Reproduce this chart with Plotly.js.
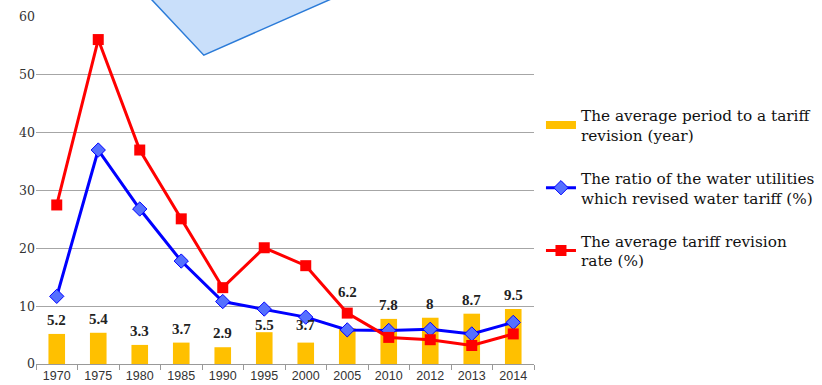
<!DOCTYPE html>
<html><head><meta charset="utf-8">
<script src="https://cdn.plot.ly/plotly-3.0.1.min.js"></script>
<style>html,body{margin:0;padding:0;background:#fff}#c{width:822px;height:385px}</style>
</head><body><div id="c"></div>
<script>
const years = ['1970','1975','1980','1985','1990','1995','2000','2005','2010','2012','2013','2014'];
const periodYears = [5.2,5.4,3.3,3.7,2.9,5.5,3.7,6.2,7.8,8,8.7,9.5];
const ratioRevised = [11.7,37.0,26.8,17.8,10.8,9.5,8.1,5.9,5.8,6.0,5.2,7.2];
const revisionRate = [27.5,56.1,37.0,25.1,13.2,20.1,17.0,8.8,4.6,4.2,3.2,5.2];
const names = ['The average period to a tariff<br>revision (year)',
               'The ratio of the water utilities<br>which revised water tariff (%)',
               'The average tariff revision<br>rate (%)'];

const traces = [
  {type:'bar', x:years, y:periodYears, marker:{color:'#FFC000'}, width:0.4, showlegend:false, hoverinfo:'skip'},
  {type:'scatter', mode:'lines', x:[years[0]], y:[null], name:names[0], line:{color:'#FFC000', width:8}, legendgroup:'a', showlegend:true},
  {type:'scatter', mode:'lines+markers', x:years, y:ratioRevised, name:names[1], legendgroup:'b',
   line:{color:'#0000FF', width:3}, marker:{symbol:'diamond', size:11, color:'#5570FF', line:{color:'#0000FF', width:1}}},
  {type:'scatter', mode:'lines+markers', x:years, y:revisionRate, name:names[2], legendgroup:'c',
   line:{color:'#FF0000', width:3}, marker:{symbol:'square', size:11, color:'#FF0000'}}
];

// label placement tweaks (pixels) to avoid overlapping the lines, as in the original
const labelShiftPx = {5:-3, 6:8, 7:26};
const annotations = years.map((yr,i)=>({x:i, y:periodYears[i], text:'<b>'+periodYears[i]+'</b>', showarrow:false,
  yanchor:'bottom', yshift:(labelShiftPx[i] !== undefined ? labelShiftPx[i] : 4),
  font:{family:'Liberation Serif, serif', size:15, color:'#222'}}));

const layout = {
  width:822, height:385,
  margin:{l:36, r:288, t:17, b:21, autoexpand:false},
  paper_bgcolor:'#fff', plot_bgcolor:'#fff',
  showlegend:true,
  legend:{x:1.014, xanchor:'left', y:0.765, yanchor:'top', tracegroupgap:20,
    font:{family:'DejaVu Serif, serif', size:15.3, color:'#111'}, itemwidth:30, bgcolor:'rgba(0,0,0,0)'},
  xaxis:{type:'category', categoryorder:'array', categoryarray:years, range:[-0.5, years.length-0.5],
    tickson:'boundaries', ticks:'outside', ticklen:5, tickcolor:'#999',
    showline:true, linecolor:'#999', linewidth:1, showgrid:false,
    tickfont:{family:'Liberation Sans Narrow, Arial Narrow, sans-serif', size:12.5, color:'#333'}},
  yaxis:{range:[0,60], dtick:10, showgrid:true, gridcolor:'#A6A6A6', gridwidth:1, zeroline:false, showline:false,
    ticks:'', tickfont:{family:'DejaVu Serif, serif', size:12.5, color:'#333'}},
  annotations:annotations,
  shapes:[{type:'path', xref:'paper', yref:'paper', layer:'above',
    path:'M 0.195 1.107 L 0.337 0.890 L 0.680 1.107 Z',
    fillcolor:'#C9DFFA', line:{color:'#2B7BD8', width:1.5}}]
};
Plotly.newPlot('c', traces, layout, {displayModeBar:false, staticPlot:true});
</script></body></html>
